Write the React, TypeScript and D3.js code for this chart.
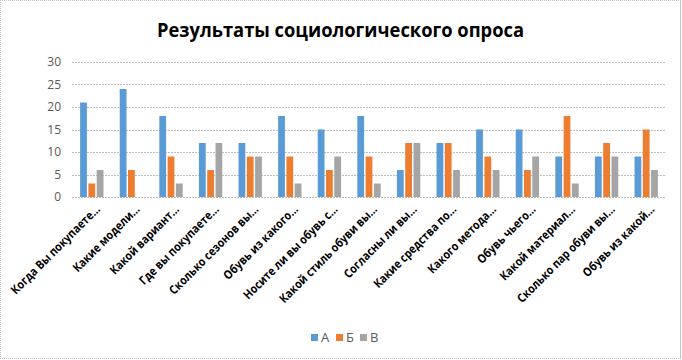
import React, { useRef, useEffect } from "react";
import * as d3 from "d3";

// survey questions (truncated like in the original)
const categories = [
  "Когда Вы покупаете…",
  "Какие модели…",
  "Какой вариант…",
  "Где вы покупаете…",
  "Сколько сезонов вы…",
  "Обувь из какого…",
  "Носите ли вы обувь с…",
  "Какой стиль обуви вы…",
  "Согласны ли вы…",
  "Какие средства по…",
  "Какого метода…",
  "Обувь чьего…",
  "Какой материал…",
  "Сколько пар обуви вы…",
  "Обувь из какой…",
];

const seriesNames = ["А", "Б", "В"];
const valuesA = [21, 24, 18, 12, 12, 18, 15, 18, 6, 12, 15, 15, 9, 9, 9];
const valuesB = [3, 6, 9, 6, 9, 9, 6, 9, 12, 12, 9, 6, 18, 12, 15];
const valuesC = [6, 0, 3, 12, 9, 3, 9, 3, 12, 6, 6, 9, 3, 9, 6];
const yTicks = [0, 5, 10, 15, 20, 25, 30];

const colors = ["#5B9BD5", "#ED7D31", "#A5A5A5"];
const titleText = "Результаты социологического опроса";

const W = 682;
const H = 360;

const App = () => {
  const svgRef = useRef<SVGSVGElement>(null);

  // plot area
  const margin = { top: 62, right: 16, bottom: 163, left: 72 };

  useEffect(() => {
    const svg = d3.select(svgRef.current);
    svg.selectAll("*").remove();

    const font = "'Open Sans', 'DejaVu Sans', sans-serif";

    // frame of the picture
    svg
      .append("rect")
      .attr("width", W)
      .attr("height", H)
      .attr("fill", "#fff");
    const frame = svg.append("g").attr("stroke", "#c4c4c4").attr("fill", "none");
    frame.append("line").attr("x1", 0).attr("x2", 680).attr("y1", 0.5).attr("y2", 0.5).attr("stroke-dasharray", "1 1");
    frame.append("line").attr("x1", 0.5).attr("x2", 0.5).attr("y1", 0).attr("y2", 359).attr("stroke-dasharray", "1 1");
    frame.append("line").attr("x1", 0).attr("x2", 680).attr("y1", 358.5).attr("y2", 358.5).attr("stroke-dasharray", "1 1");
    frame.append("line").attr("x1", 680.5).attr("x2", 680.5).attr("y1", 0).attr("y2", 359);

    // title
    svg
      .append("text")
      .attr("x", 340.5)
      .attr("y", 37)
      .attr("text-anchor", "middle")
      .attr("font-family", font)
      .attr("font-weight", "bold")
      .attr("font-size", 20)
      .attr("fill", "#000")
      .attr("textLength", 367)
      .attr("lengthAdjust", "spacingAndGlyphs")
      .text(titleText);

    const innerW = W - margin.left - margin.right;
    const innerH = H - margin.top - margin.bottom;

    const x0 = d3.scaleBand().domain(categories).range([0, innerW]);
    const x1 = d3
      .scaleBand()
      .domain(seriesNames)
      .range([0, x0.bandwidth()])
      .paddingInner(0.18)
      .paddingOuter(0.98);
    const y = d3.scaleLinear().domain([0, 30]).range([innerH, 0]);

    const g = svg.append("g").attr("transform", `translate(${margin.left},${margin.top})`);

    // gridlines
    g.selectAll("line.grid")
      .data(yTicks)
      .enter()
      .append("line")
      .attr("class", "grid")
      .attr("x1", 0)
      .attr("x2", innerW)
      .attr("y1", (d) => Math.round(y(d)) + 0.5)
      .attr("y2", (d) => Math.round(y(d)) + 0.5)
      .attr("stroke", "#bdbdbd")
      .attr("stroke-dasharray", "2 1");

    // y labels
    g.selectAll("text.ylab")
      .data(yTicks)
      .enter()
      .append("text")
      .attr("class", "ylab")
      .attr("x", -11)
      .attr("y", (d) => y(d) + 4)
      .attr("text-anchor", "end")
      .attr("font-family", font)
      .attr("font-size", 12)
      .attr("fill", "#595959")
      .text((d) => d);

    // bars
    const series = [valuesA, valuesB, valuesC];
    const rows = categories.map((c, i) => ({
      cat: c,
      vals: series.map((s, k) => ({ key: seriesNames[k], v: s[i], k })),
    }));

    const groups = g
      .selectAll("g.cat")
      .data(rows)
      .enter()
      .append("g")
      .attr("class", "cat")
      .attr("transform", (d) => `translate(${x0(d.cat)},0)`);

    groups
      .selectAll("rect")
      .data((d) => d.vals)
      .enter()
      .append("rect")
      .attr("x", (d) => x1(d.key)!)
      .attr("y", (d) => y(d.v))
      .attr("width", x1.bandwidth())
      .attr("height", (d) => innerH - y(d.v))
      .attr("fill", (d) => colors[d.k]);

    // x labels, rotated; squeezed a bit to get closer to the narrow original font
    g.selectAll("text.xlab")
      .data(categories)
      .enter()
      .append("text")
      .attr("class", "xlab")
      .attr(
        "transform",
        (d) =>
          `translate(${x0(d)! + x0.bandwidth() / 2 + 9},${innerH + 13}) rotate(-45) scale(0.88,1)`
      )
      .attr("text-anchor", "end")
      .attr("font-family", font)
      .attr("font-weight", "bold")
      .attr("font-size", 12)
      .attr("fill", "#000")
      .text((d) => d);

    // legend
    const legendX = [311, 336, 360];
    const legend = svg
      .selectAll("g.legend")
      .data(seriesNames)
      .enter()
      .append("g")
      .attr("class", "legend")
      .attr("transform", (d, i) => `translate(${legendX[i]},334)`);
    legend
      .append("rect")
      .attr("width", 7)
      .attr("height", 7)
      .attr("fill", (d, i) => colors[i]);
    legend
      .append("text")
      .attr("x", 10)
      .attr("y", 8)
      .attr("font-family", font)
      .attr("font-size", 13)
      .attr("fill", "#595959")
      .text((d) => d);
  }, []);

  return (
    <svg
      ref={svgRef}
      width={W}
      height={H}
      style={{ position: "absolute", left: 0, top: 0 }}
    />
  );
};

export default App;
